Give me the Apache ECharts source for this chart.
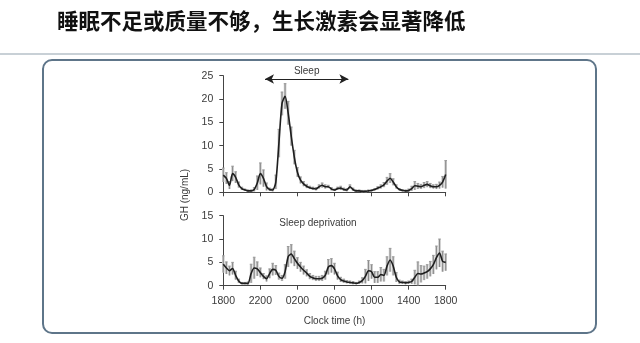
<!DOCTYPE html>
<html>
<head>
<meta charset="utf-8">
<script src="https://cdn.jsdelivr.net/npm/echarts@6/dist/echarts.min.js"></script>
<style>
  html, body { margin: 0; padding: 0; background: #ffffff; }
  #chart { width: 640px; height: 343px; }
</style>
</head>
<body>
<div id="chart"></div>
<script>
// Mean GH (ng/mL) sampled every 20 minutes from 18:00 to 18:00 next day
const SAMPLE_MINUTES = 20;
const tickLabels = ['1800', '2200', '0200', '0600', '1000', '1400', '1800'];

const sleepMean = [
  3.7, 3.0, 1.5, 4.0, 3.2, 1.6, 0.8, 0.5, 0.3, 0.3, 0.6, 2.0, 4.0,
  3.0, 1.2, 0.6, 0.5, 2.2, 10.5, 19.0, 20.6, 17.0, 12.0, 7.5, 4.3,
  2.6, 1.8, 1.3, 1.0, 0.8, 0.7, 1.2, 1.5, 1.2, 1.2, 0.7, 0.5,
  0.8, 0.9, 0.6, 0.5, 1.2, 0.6, 0.3, 0.3, 0.2, 0.2, 0.3, 0.4,
  0.6, 0.9, 1.2, 1.6, 2.4, 3.0, 2.2, 1.2, 0.6, 0.4, 0.3, 0.4,
  0.8, 1.4, 1.3, 1.2, 1.5, 1.7, 1.4, 1.2, 1.2, 1.5, 2.2, 3.8
];
const sleepSd = [
  1.5, 1.2, 0.8, 1.6, 1.2, 0.6, 0.3, 0.2, 0.2, 0.2, 0.4, 1.5, 2.3,
  1.8, 0.8, 0.3, 0.3, 1.5, 3.0, 2.5, 2.7, 2.5, 2.0, 1.5, 1.0,
  0.7, 0.5, 0.4, 0.3, 0.3, 0.3, 0.4, 0.5, 0.4, 0.3, 0.3, 0.2,
  0.3, 0.4, 0.3, 0.3, 0.4, 0.3, 0.2, 0.2, 0.2, 0.2, 0.2, 0.2,
  0.2, 0.3, 0.4, 0.5, 0.8, 1.0, 0.7, 0.4, 0.2, 0.2, 0.2, 0.3,
  0.5, 0.9, 0.6, 0.5, 0.6, 0.6, 0.5, 0.4, 0.5, 0.7, 1.2, 3.0
];

const deprivMean = [
  4.6, 3.8, 3.2, 3.7, 2.2, 1.0, 0.5, 0.5, 0.5, 2.6, 3.8, 3.6, 2.8,
  2.0, 1.5, 2.6, 3.5, 3.3, 2.0, 1.6, 3.0, 6.2, 6.8, 5.8, 4.8,
  4.0, 3.3, 2.7, 2.0, 1.7, 1.5, 1.5, 1.6, 2.2, 4.0, 4.3, 3.6,
  2.1, 1.3, 1.0, 0.8, 0.7, 0.6, 0.5, 0.7, 1.1, 2.0, 3.2, 3.0,
  1.8, 1.8, 2.4, 2.2, 4.2, 5.5, 4.2, 1.8, 0.8, 0.7, 0.6, 0.7,
  0.9, 1.8, 2.6, 2.5, 2.7, 3.0, 3.6, 4.5, 6.0, 7.0, 5.2, 5.0
];
const deprivSd = [
  1.8, 1.3, 1.0, 1.3, 0.9, 0.4, 0.2, 0.2, 0.3, 2.0, 2.3, 1.5, 1.0,
  0.6, 0.6, 1.0, 1.3, 1.0, 0.7, 0.6, 1.5, 2.2, 2.0, 1.6, 1.2,
  1.0, 0.9, 0.7, 0.6, 0.5, 0.5, 0.5, 0.6, 0.9, 1.6, 1.5, 1.2,
  0.8, 0.5, 0.4, 0.3, 0.3, 0.3, 0.2, 0.3, 0.6, 1.5, 2.2, 1.5,
  1.2, 1.2, 1.5, 1.3, 2.0, 2.5, 2.0, 1.0, 0.4, 0.3, 0.3, 0.3,
  0.5, 1.5, 2.5, 1.8, 1.5, 1.5, 1.6, 2.0, 2.5, 3.0, 2.2, 1.8
];

// Sleep period (hours after 18:00) shown by the double arrow
const sleepSpan = [4.5, 13.5];

const hoursOf = (i) => (i * SAMPLE_MINUTES) / 60;
const linePoints = (mean) => mean.map((v, i) => [hoursOf(i), v]);
const barPoints = (mean, sd) =>
  mean.map((v, i) => [hoursOf(i), Math.max(0, v - sd[i]), v + sd[i]]);

const textColor = '#3a3a3a';
const fontFamily = 'Liberation Sans, Arial, sans-serif';

// Each SD bar: a light grey slab with a darker centre stroke, so that
// neighbouring samples merge into a shaded band
function renderErrorBar(params, api) {
  const x = api.value(0);
  const lo = api.coord([x, api.value(1)]);
  const hi = api.coord([x, api.value(2)]);
  const half = 1.3;
  return {
    type: 'group',
    children: [
      {
        type: 'rect',
        shape: { x: lo[0] - half, y: hi[1], width: half * 2, height: lo[1] - hi[1] },
        style: { fill: '#cbcbcb' }
      },
      {
        type: 'line',
        shape: { x1: lo[0], y1: lo[1], x2: hi[0], y2: hi[1] },
        style: { stroke: '#8a8a8a', lineWidth: 1 }
      },
      {
        type: 'line',
        shape: { x1: hi[0] - half, y1: hi[1], x2: hi[0] + half, y2: hi[1] },
        style: { stroke: '#9a9a9a', lineWidth: 1 }
      }
    ]
  };
}

function xAxisFor(gridIndex, showLabels, offset) {
  return {
    type: 'value', gridIndex, min: 0, max: 24, interval: 4, offset,
    axisLine: { show: true, lineStyle: { color: '#444', width: 1 } },
    axisTick: { show: true, inside: false, length: 4, lineStyle: { color: '#444' } },
    splitLine: { show: false },
    axisLabel: {
      show: showLabels, margin: 5, color: textColor, fontSize: 10.5, fontFamily,
      formatter: (v) => tickLabels[Math.round(v / 4)]
    },
    name: showLabels ? 'Clock time (h)' : '',
    nameLocation: 'middle', nameGap: 26,
    nameTextStyle: { color: textColor, fontSize: 10, fontFamily }
  };
}

function yAxisFor(gridIndex, max) {
  return {
    type: 'value', gridIndex, min: 0, max, interval: 5, offset: 3,
    axisLine: { show: true, lineStyle: { color: '#444', width: 1 } },
    axisTick: { show: true, length: 4, lineStyle: { color: '#444' } },
    splitLine: { show: false },
    axisLabel: { margin: 7, color: textColor, fontSize: 10.5, fontFamily }
  };
}

const chart = echarts.init(document.getElementById('chart'), null, { renderer: 'canvas' });

chart.setOption({
  backgroundColor: '#ffffff',
  animation: false,
  grid: [
    { left: 223.3, right: 194.3, top: 75.7, height: 116.6 },
    { left: 223.3, right: 194.3, top: 215.7, height: 70 }
  ],
  xAxis: [xAxisFor(0, false, 4), xAxisFor(1, true, 5)],
  yAxis: [yAxisFor(0, 25), yAxisFor(1, 15)],
  graphic: [
    {
      type: 'text', left: 57, top: 10,
      style: {
        text: '睡眠不足或质量不够，生长激素会显著降低',
        fill: '#111', font: 'bold 21.5px "Noto Sans CJK SC", sans-serif'
      }
    },
    {
      type: 'rect', shape: { x: 0, y: 53, width: 640, height: 2 },
      style: { fill: '#c8d0d6' }
    },
    {
      type: 'rect', shape: { x: 43, y: 60, width: 553, height: 273, r: 9 },
      style: { fill: 'none', stroke: '#5e7589', lineWidth: 2 }
    },
    {
      type: 'text', x: 185, y: 195, rotation: Math.PI / 2,
      style: {
        text: 'GH (ng/mL)', fill: textColor, font: '10px ' + fontFamily,
        textAlign: 'center', textVerticalAlign: 'middle'
      }
    },
    {
      type: 'text', x: 318, y: 223,
      style: {
        text: 'Sleep deprivation', fill: textColor, font: '10px ' + fontFamily,
        textAlign: 'center', textVerticalAlign: 'middle'
      }
    }
  ],
  series: [
    {
      type: 'custom', xAxisIndex: 0, yAxisIndex: 0,
      renderItem: renderErrorBar, data: barPoints(sleepMean, sleepSd), z: 1
    },
    {
      type: 'line', xAxisIndex: 0, yAxisIndex: 0, data: linePoints(sleepMean),
      showSymbol: false, smooth: 0.25, lineStyle: { color: '#1e1e1e', width: 1.6 }, z: 3,
      markLine: {
        silent: true, symbol: ['arrow', 'arrow'], symbolSize: [7, 9],
        lineStyle: { color: '#222', width: 1, type: 'solid' },
        label: {
          show: true, position: 'middle', formatter: 'Sleep', distance: 3,
          color: textColor, fontSize: 10, fontFamily
        },
        data: [[{ coord: [sleepSpan[0], 24.3] }, { coord: [sleepSpan[1], 24.3] }]]
      }
    },
    {
      type: 'custom', xAxisIndex: 1, yAxisIndex: 1,
      renderItem: renderErrorBar, data: barPoints(deprivMean, deprivSd), z: 1
    },
    {
      type: 'line', xAxisIndex: 1, yAxisIndex: 1, data: linePoints(deprivMean),
      showSymbol: false, smooth: 0.25, lineStyle: { color: '#1e1e1e', width: 1.6 }, z: 3
    }
  ]
});
</script>
</body>
</html>
